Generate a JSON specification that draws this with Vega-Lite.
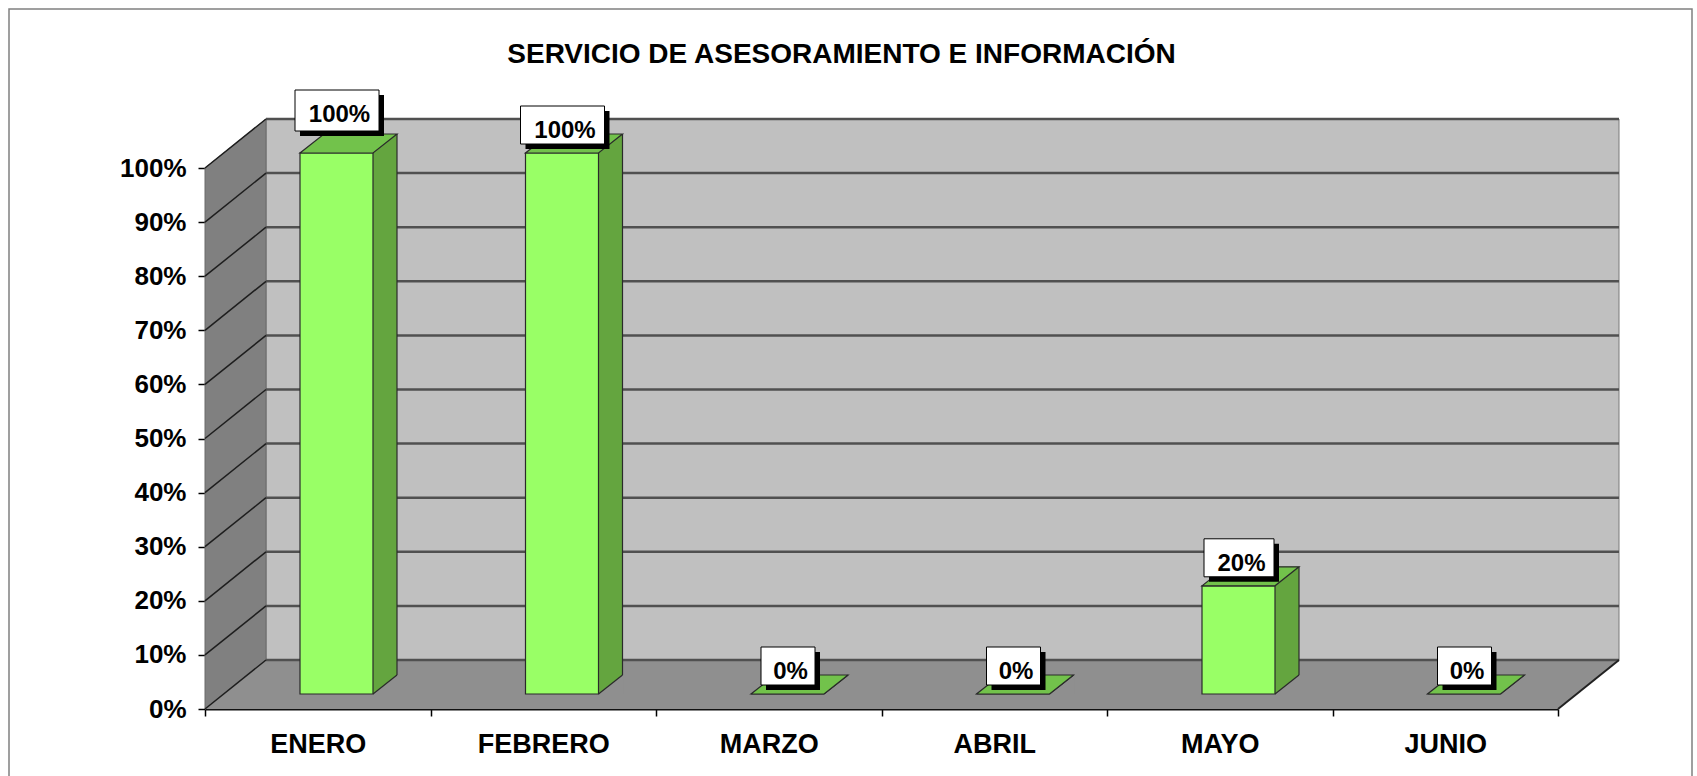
{
  "$schema": "https://vega.github.io/schema/vega-lite/v6.json",
  "width": 1353,
  "height": 541,
  "autosize": "none",
  "padding": {"left": 205, "top": 168, "right": 139, "bottom": 67},
  "background": "white",
  "config": {
    "view": {"stroke": null},
    "font": "Liberation Sans",
    "axisX": {"tickBand": "extent", "labelAngle": 0, "labelFont": "Liberation Sans", "labelFontSize": 27, "labelFontWeight": "bold", "labelColor": "#000000", "labelPadding": 15, "tickSize": 7, "tickColor": "#000000", "tickWidth": 1.5, "domainColor": "#111111", "domainWidth": 2, "grid": false, "zindex": 1},
    "axisY": {"labelFont": "Liberation Sans", "labelFontSize": 26, "labelFontWeight": "bold", "labelColor": "#000000", "labelPadding": 12, "tickSize": 7, "tickColor": "#000000", "tickWidth": 1.5, "domainColor": "#555555", "domainWidth": 1, "grid": false, "zindex": 1}
  },
  "title": {"text": "SERVICIO DE ASESORAMIENTO  E INFORMACIÓN", "anchor": "middle", "frame": "group", "font": "Liberation Sans", "fontSize": 28, "fontWeight": "bold", "color": "#000000", "baseline": "alphabetic", "offset": -56, "dx": -40, "dy": 29},
  "datasets": {
    "meses": [
      {"mes": "ENERO", "valor": 1},
      {"mes": "FEBRERO", "valor": 1},
      {"mes": "MARZO", "valor": 0},
      {"mes": "ABRIL", "valor": 0},
      {"mes": "MAYO", "valor": 0.2},
      {"mes": "JUNIO", "valor": 0}
    ],
    "rejilla": [
      {"t": 0}, {"t": 0.1}, {"t": 0.2}, {"t": 0.3}, {"t": 0.4}, {"t": 0.5},
      {"t": 0.6}, {"t": 0.7}, {"t": 0.8}, {"t": 0.9}, {"t": 1}
    ],
    "uno": [{}]
  },
  "layer": [
    {
      "data": {"name": "uno"},
      "mark": {"type": "point", "shape": "M-196,-700 H1487 V90 H-196 Z", "size": 4, "filled": false, "stroke": "#808080", "strokeWidth": 1.5, "opacity": 1, "xOffset": -112.75},
      "encoding": {
        "x": {"datum": "ENERO", "type": "nominal", "title": null, "scale": {"domain": ["ENERO","FEBRERO","MARZO","ABRIL","MAYO","JUNIO"], "paddingInner": 0, "paddingOuter": 0}, "axis": {"title": null, "orient": "bottom"}},
        "y": {"datum": 0, "type": "quantitative", "title": null, "scale": {"domain": [0, 1], "nice": false}, "axis": {"title": null, "orient": "left", "values": [0, 0.1, 0.2, 0.3, 0.4, 0.5, 0.6, 0.7, 0.8, 0.9, 1], "format": ".0%"}}
      }
    },
    {
      "data": {"name": "uno"},
      "mark": {"type": "point", "shape": "M61,-49 H1414 V-590 H61 Z", "size": 4, "filled": true, "fill": "#C0C0C0", "stroke": "#7a7a7a", "strokeWidth": 1, "opacity": 1, "xOffset": -112.75},
      "encoding": {
        "x": {"datum": "ENERO", "type": "nominal", "title": null},
        "y": {"datum": 0, "type": "quantitative", "title": null}
      }
    },
    {
      "data": {"name": "uno"},
      "mark": {"type": "point", "shape": "M0,0 V-541 L61,-590 V-49 Z", "size": 4, "filled": true, "fill": "#808080", "stroke": "#6a6a6a", "strokeWidth": 1, "opacity": 1, "xOffset": -112.75},
      "encoding": {
        "x": {"datum": "ENERO", "type": "nominal", "title": null},
        "y": {"datum": 0, "type": "quantitative", "title": null}
      }
    },
    {
      "data": {"name": "uno"},
      "mark": {"type": "point", "shape": "M0,0 H1353 L1414,-49 H61 Z", "size": 4, "filled": true, "fill": "#8F8F8F", "strokeWidth": 0, "opacity": 1, "xOffset": -112.75},
      "encoding": {
        "x": {"datum": "ENERO", "type": "nominal", "title": null},
        "y": {"datum": 0, "type": "quantitative", "title": null}
      }
    },
    {
      "data": {"name": "rejilla"},
      "mark": {"type": "point", "shape": "M61,-49 H1414", "size": 4, "filled": false, "stroke": "#505050", "strokeWidth": 2.5, "opacity": 1, "xOffset": -112.75},
      "encoding": {
        "x": {"datum": "ENERO", "type": "nominal", "title": null},
        "y": {"field": "t", "type": "quantitative", "title": null}
      }
    },
    {
      "data": {"name": "rejilla"},
      "mark": {"type": "point", "shape": "M0,0 L61,-49", "size": 4, "filled": false, "stroke": "#1e1e1e", "strokeWidth": 1.5, "opacity": 1, "xOffset": -112.75},
      "encoding": {
        "x": {"datum": "ENERO", "type": "nominal", "title": null},
        "y": {"field": "t", "type": "quantitative", "title": null}
      }
    },
    {
      "data": {"name": "uno"},
      "mark": {"type": "point", "shape": "M1353,0 L1414,-49", "size": 4, "filled": false, "stroke": "#222222", "strokeWidth": 2, "opacity": 1, "xOffset": -112.75},
      "encoding": {
        "x": {"datum": "ENERO", "type": "nominal", "title": null},
        "y": {"datum": 0, "type": "quantitative", "title": null}
      }
    },
    {
      "data": {"name": "meses"},
      "mark": {"type": "bar", "width": 24, "xOffset": 67.25, "yOffset": -34, "y2Offset": -15, "fill": "#64A53F", "strokeWidth": 0},
      "encoding": {
        "x": {"field": "mes", "type": "nominal", "title": null},
        "y": {"field": "valor", "type": "quantitative", "title": null},
        "y2": {"datum": 0, "title": null}
      }
    },
    {
      "data": {"name": "meses"},
      "mark": {"type": "point", "shape": "M55.25,-15 H80.5 V-35 Z", "size": 4, "filled": true, "fill": "#8F8F8F", "strokeWidth": 0, "opacity": 1},
      "encoding": {
        "x": {"field": "mes", "type": "nominal", "title": null},
        "y": {"datum": 0, "type": "quantitative", "title": null}
      }
    },
    {
      "data": {"name": "meses"},
      "mark": {"type": "point", "shape": "M55.25,-15 L79.25,-34", "size": 4, "filled": false, "stroke": "#2a2a2a", "strokeWidth": 1.2, "opacity": 1},
      "encoding": {
        "x": {"field": "mes", "type": "nominal", "title": null},
        "y": {"datum": 0, "type": "quantitative", "title": null}
      }
    },
    {
      "data": {"name": "meses"},
      "mark": {"type": "rule", "xOffset": 79.25, "yOffset": -34, "y2Offset": -34, "stroke": "#2a2a2a", "strokeWidth": 1.2},
      "encoding": {
        "x": {"field": "mes", "type": "nominal", "title": null},
        "y": {"field": "valor", "type": "quantitative", "title": null},
        "y2": {"datum": 0, "title": null}
      }
    },
    {
      "data": {"name": "meses"},
      "mark": {"type": "bar", "width": 73, "xOffset": 18.75, "yOffset": -15, "y2Offset": -15, "fill": "#99FF66", "stroke": "#2a2a2a", "strokeWidth": 1.2},
      "encoding": {
        "x": {"field": "mes", "type": "nominal", "title": null},
        "y": {"field": "valor", "type": "quantitative", "title": null},
        "y2": {"datum": 0, "title": null}
      }
    },
    {
      "data": {"name": "meses"},
      "mark": {"type": "point", "shape": "M-17.75,0 H55.25 L79.25,-19 H6.25 Z", "size": 4, "filled": true, "fill": "#72C24B", "stroke": "#2a2a2a", "strokeWidth": 1.2, "opacity": 1, "yOffset": -15},
      "encoding": {
        "x": {"field": "mes", "type": "nominal", "title": null},
        "y": {"field": "valor", "type": "quantitative", "title": null}
      }
    },
    {
      "data": {"name": "meses"},
      "mark": {"type": "point", "size": 4, "filled": true, "fill": "#000000", "strokeWidth": 0, "opacity": 1, "xOffset": 24.25, "yOffset": 5},
      "encoding": {
        "x": {"field": "mes", "type": "nominal", "title": null},
        "y": {"field": "valor", "type": "quantitative", "title": null},
        "shape": {"field": "mes", "type": "nominal", "legend": null, "scale": {"domain": ["ENERO","FEBRERO","MARZO","ABRIL","MAYO","JUNIO"], "range": ["M-42,-78 H42 V-37 H-42 Z", "M-42,-62 H42 V-24 H-42 Z", "M-27,-62 H27 V-24 H-27 Z", "M-27,-62 H27 V-24 H-27 Z", "M-35,-62 H35 V-24 H-35 Z", "M-27,-62 H27 V-24 H-27 Z"]}}
      }
    },
    {
      "data": {"name": "meses"},
      "mark": {"type": "point", "size": 4, "filled": true, "fill": "#FFFFFF", "stroke": "#000000", "strokeWidth": 1, "opacity": 1, "xOffset": 19.25},
      "encoding": {
        "x": {"field": "mes", "type": "nominal", "title": null},
        "y": {"field": "valor", "type": "quantitative", "title": null},
        "shape": {"field": "mes", "type": "nominal", "legend": null}
      }
    },
    {
      "data": {"name": "meses"},
      "transform": [{"filter": "datum.mes !== 'ENERO'"}],
      "mark": {"type": "text", "font": "Liberation Sans", "fontSize": 24, "fontWeight": "bold", "color": "#000000", "align": "center", "baseline": "alphabetic", "dx": 21.75, "dy": -30},
      "encoding": {
        "x": {"field": "mes", "type": "nominal", "title": null},
        "y": {"field": "valor", "type": "quantitative", "title": null},
        "text": {"field": "valor", "type": "quantitative", "format": ".0%"}
      }
    },
    {
      "data": {"name": "meses"},
      "transform": [{"filter": "datum.mes === 'ENERO'"}],
      "mark": {"type": "text", "font": "Liberation Sans", "fontSize": 24, "fontWeight": "bold", "color": "#000000", "align": "center", "baseline": "alphabetic", "dx": 21.75, "dy": -46},
      "encoding": {
        "x": {"field": "mes", "type": "nominal", "title": null},
        "y": {"field": "valor", "type": "quantitative", "title": null},
        "text": {"field": "valor", "type": "quantitative", "format": ".0%"}
      }
    }
  ]
}
